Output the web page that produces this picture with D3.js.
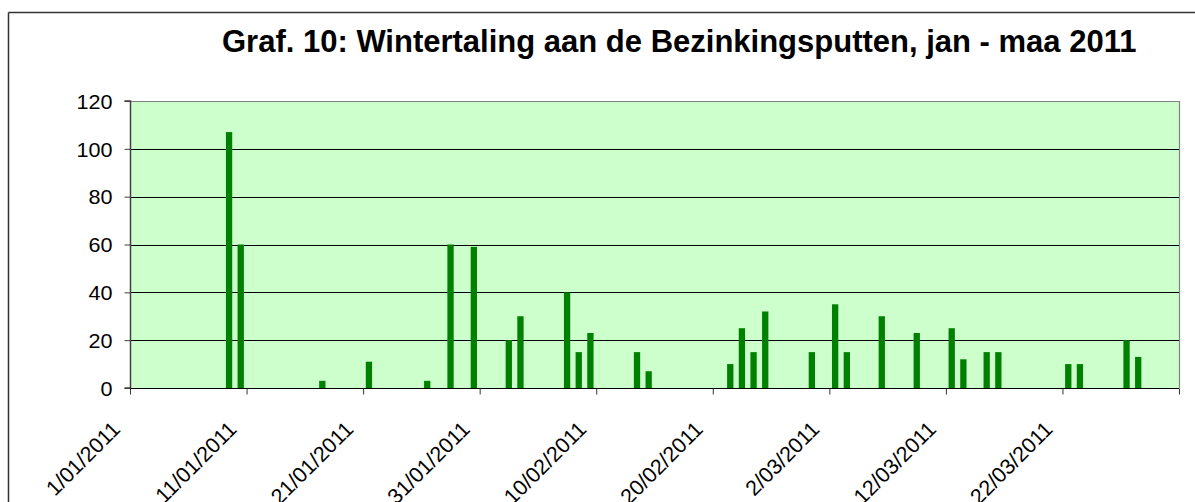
<!DOCTYPE html>
<html>
<head>
<meta charset="utf-8">
<script src="https://cdn.jsdelivr.net/npm/d3@7"></script>
<style>
  html, body { margin: 0; padding: 0; background: #fff; }
  svg { display: block; font-family: Arial, "Liberation Sans", sans-serif; }
</style>
</head>
<body>
<svg id="chart" width="1195" height="502"></svg>
<script>
const titleText = "Graf. 10: Wintertaling aan de Bezinkingsputten, jan - maa 2011";
const dates = ["9/01/2011","10/01/2011","17/01/2011","21/01/2011","26/01/2011","28/01/2011","30/01/2011",
  "2/02/2011","3/02/2011","7/02/2011","8/02/2011","9/02/2011","13/02/2011","14/02/2011",
  "21/02/2011","22/02/2011","23/02/2011","24/02/2011","28/02/2011",
  "2/03/2011","3/03/2011","6/03/2011","9/03/2011","12/03/2011","13/03/2011","15/03/2011","16/03/2011",
  "22/03/2011","23/03/2011","27/03/2011","28/03/2011"];
const counts = [107,60,3,11,3,60,59,
  20,30,40,15,23,15,7,
  10,25,15,32,15,
  35,15,30,23,25,12,15,15,
  10,10,20,13];
const tickLabels = ["1/01/2011","11/01/2011","21/01/2011","31/01/2011","10/02/2011","20/02/2011","2/03/2011","12/03/2011","22/03/2011"];
const axisEnd = "1/04/2011";
const yTicks = [0,20,40,60,80,100,120];

const parse = d3.timeParse("%d/%m/%Y");
const svg = d3.select("#chart");

const L = 130, R = 1179, T = 101, B = 388;

// outer frame
svg.append("line").attr("x1", 8.5).attr("x2", 1195).attr("y1", 12.5).attr("y2", 12.5).attr("stroke", "#333").attr("stroke-width", 1.5);
svg.append("line").attr("x1", 8.5).attr("x2", 8.5).attr("y1", 12.5).attr("y2", 502).attr("stroke", "#333").attr("stroke-width", 1.5);

const x = d3.scaleTime().domain([parse(tickLabels[0]), parse(axisEnd)]).range([L, R]);
const y = d3.scaleLinear().domain([0, 120]).range([B, T]);

// plot background
svg.append("rect").attr("x", L).attr("y", T).attr("width", R - L).attr("height", B - T).attr("fill", "#CCFFCC");

// gridlines
svg.append("g").selectAll("line").data(yTicks.filter(v => v > 0 && v < 120)).join("line")
  .attr("x1", L).attr("x2", R).attr("y1", d => Math.round(y(d)) + 0.5).attr("y2", d => Math.round(y(d)) + 0.5)
  .attr("stroke", "#000").attr("stroke-width", 1);

// border top/right
svg.append("path").attr("d", `M${L},${T + 0.5}H${R + 0.5}V${B}`).attr("fill", "none").attr("stroke", "#808080").attr("stroke-width", 1.2);

// bars
const dayMs = 86400000;
const barData = dates.map((d, i) => ({ date: parse(d), value: counts[i] }));
svg.append("g").selectAll("rect").data(barData).join("rect")
  .attr("x", d => {
    const x0 = x(d.date), x1 = x(new Date(+d.date + dayMs));
    const w = (x1 - x0) * 0.54;
    return (x0 + x1) / 2 - w / 2;
  })
  .attr("width", d => (x(new Date(+d.date + dayMs)) - x(d.date)) * 0.54)
  .attr("y", d => y(d.value))
  .attr("height", d => y(0) - y(d.value))
  .attr("fill", "#008000");

// y axis
const yAxis = d3.axisLeft(y).tickValues(yTicks).tickSize(6).tickPadding(12).tickFormat(d3.format("d"));
const gy = svg.append("g").attr("transform", `translate(${L + 0.5},0)`).call(yAxis);
gy.select(".domain").attr("stroke", "#404040").attr("stroke-width", 1.5).attr("d", `M-6,${T}H0V${B}H-6`);
gy.selectAll(".tick line").attr("stroke", "#404040");
const sy = 1.08;
gy.selectAll(".tick text").attr("font-size", 20).attr("fill", "#000").attr("font-family", "Arial, 'Liberation Sans', sans-serif").attr("dy", "0.36em")
  .each(function() {
    const t = d3.select(this);
    t.attr("x", +t.attr("x") / sy).attr("transform", `scale(${sy},1)`);
  });

// x axis
const tickDates = tickLabels.map(parse).concat([parse(axisEnd)]);
const fmt = d => { const i = tickDates.findIndex(t => +t === +d); return i < tickLabels.length ? tickLabels[i] : ""; };
const xAxis = d3.axisBottom(x).tickValues(tickDates).tickSize(6).tickFormat(fmt);
const gx = svg.append("g").attr("transform", `translate(0,${B + 0.5})`).call(xAxis);
gx.select(".domain").attr("stroke", "#000").attr("stroke-width", 1.2).attr("d", `M${L},0H${R}`);
gx.selectAll(".tick line").attr("stroke", "#333");
gx.selectAll(".tick text")
  .attr("font-size", 21.5).attr("fill", "#000").attr("font-family", "Arial, 'Liberation Sans', sans-serif")
  .attr("text-anchor", "end").attr("dy", 0).attr("y", 0)
  .attr("transform", "translate(-9,42) rotate(-45)");

// title: natural bold font, sized to span the reference width
const title = svg.append("text").attr("x", 222).attr("y", 52)
  .attr("font-size", 21).attr("font-weight", "bold").attr("fill", "#000")
  .text(titleText);
const tw = title.node().getComputedTextLength();
title.attr("font-size", 21 * 915 / tw);
</script>
</body>
</html>
